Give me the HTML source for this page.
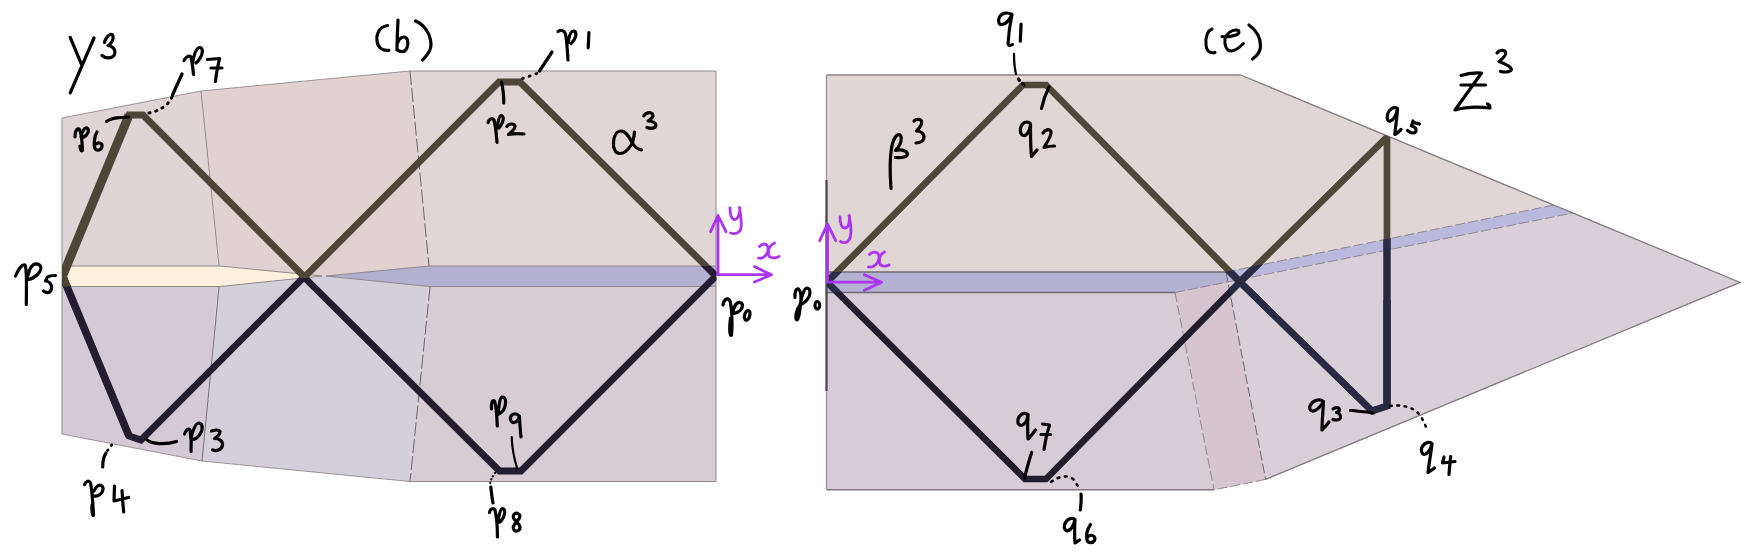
<!DOCTYPE html>
<html><head><meta charset="utf-8"><style>
html,body{margin:0;padding:0;background:#fff;width:1753px;height:554px;overflow:hidden;font-family:"Liberation Sans",sans-serif}
svg{display:block}
</style></head><body>
<svg width="1753" height="554" viewBox="0 0 1753 554">
<defs>
<clipPath id="cLP"><rect x="62" y="0" width="654.5" height="554"/></clipPath>
<clipPath id="cRP"><polygon points="827,75 1240.6,75 1740,282.4 1265.6,479.4 1214,489.8 827,489.8"/></clipPath>
<clipPath id="cCream"><polygon points="62,266 220,266 322,276 220,286.5 62,286.5"/></clipPath>
<clipPath id="cLav"><polygon points="326,276 429,266 720,266 720,300 326,300"/></clipPath>
<clipPath id="cBrownL"><polygon points="0,0 800,0 800,278 0,278"/></clipPath>
<clipPath id="cBelowR"><polygon points="800,272 1226,272 1554,205 1760,205 1760,560 800,560"/></clipPath>
<clipPath id="cRL"><polygon points="1226,272 1554,205 1760,205 1760,560 1280.7,560"/></clipPath>
<clipPath id="cBandR"><polygon points="826.5,272 1226,272 1554,205 1573,213 1175,292.5 826.5,292.5"/></clipPath>
</defs>
<!-- LEFT PANEL facets -->
<g stroke="none">
<polygon points="62,118 201,91 219,276 62,276" fill="#e0d4d6"/>
<polygon points="201,91 410,71 430,276 219,276" fill="#e2d1d1"/>
<polygon points="410,71 716,71 716,276 430,276" fill="#e0d6d6"/>
<polygon points="62,276 219,276 202,461 62,434" fill="#d5c9d5"/>
<polygon points="219,276 430,276 410,481.5 202,461" fill="#d4d0d9"/>
<polygon points="430,276 716,276 716,481.5 410,481.5" fill="#d7cbd4"/>
<polygon points="62,266 220,266 322,276 220,286.5 62,286.5" fill="#fdf0dc"/>
<polygon points="326,276 429,266 716,266 716,286.5 429,286.5" fill="#b4b0d2"/>
</g>
<!-- left panel edges -->
<g fill="none" stroke="#8f888c" stroke-width="1">
<polyline points="62,118 201,91 410,71" stroke="#9a9296"/>
<polyline points="410,71 716,71 716,481.5 410,481.5"/>
<polyline points="410,481.5 202,461 62,434" stroke="#9a9296"/>
<line x1="62" y1="118" x2="62" y2="434"/>
<line x1="201" y1="91" x2="219" y2="266" stroke-width="0.9" stroke="#8a8084"/>
<line x1="219" y1="287" x2="202" y2="461" stroke-width="0.9" stroke="#6a6468"/>
<line x1="410" y1="71" x2="429" y2="266" stroke-dasharray="14,3" stroke="#6a6468"/>
<line x1="430" y1="287" x2="410" y2="481.5" stroke-dasharray="14,3" stroke="#6a6468"/>
<polyline points="62,266 220,266 322,276 220,286.5 62,286.5"/>
<polyline points="326,276 429,266 716,266"/>
<polyline points="326,276 429,286.5 716,286.5"/>
</g>
<!-- left zigzag -->
<g clip-path="url(#cLP)" fill="none" stroke-linejoin="miter" stroke-miterlimit="10">
<polyline points="62.5,276 129,436 141,440 304,277 499.5,471 521,471 716,276" stroke="#221d30" stroke-width="6.8"/>
<line x1="62.5" y1="276" x2="129" y2="436" stroke="#221d30" stroke-width="7.6"/>
<g clip-path="url(#cBrownL)">
<polyline points="62.5,276 129,115 143,115 304.5,277 499,82 520,82 716,276" stroke="#4e4536" stroke-width="6.8"/>
<line x1="62.5" y1="276" x2="129" y2="115" stroke="#4e4536" stroke-width="9"/>
</g>
<g clip-path="url(#cCream)">
<line x1="62.5" y1="276" x2="129" y2="436" stroke="#4e4536" stroke-width="7.6"/>
</g>
<g clip-path="url(#cLav)">
<polyline points="499,82 520,82 716,276" stroke="#221d30" stroke-width="6.8"/>
</g>
</g>

<!-- RIGHT PANEL facets -->
<g stroke="none">
<polygon points="826.5,75 1240.6,75 1554,205 1226,272 826.5,272" fill="#e0d6d6"/>
<polygon points="826.5,292.5 1175,292.5 1214,489.8 826.5,489.8" fill="#d7ccd6"/>
<polygon points="1175,292.5 1228,282 1265.6,479.4 1214,489.8" fill="#d6c4cf"/>
<polygon points="1228,282 1573,213 1740,282.4 1265.6,479.4" fill="#d9cfd8"/>
<polygon points="826.5,272 1226,272 1554,205 1573,213 1175,292.5 826.5,292.5" fill="#bab9dd"/>
<polygon points="826.5,272 1226,272 1228,282 1175,292.5 826.5,292.5" fill="#b5b1d3"/>
</g>
<g fill="none" stroke="#8f888c" stroke-width="1">
<polyline points="826.5,75 1240.6,75"  stroke="#a39b9d" stroke-width="2"/><polyline points="1240.6,75 1740,282.4 1265.6,479.4" stroke="#837d81" stroke-width="1.3"/>
<polyline points="1265.6,479.4 1214,489.8" stroke-dasharray="10,3"/>
<polyline points="1214,489.8 826.5,489.8" stroke="#7e787c" stroke-width="1.6"/><polyline points="826.5,489.8 826.5,75" stroke="#9a9598" stroke-width="1.4"/>
<line x1="1175" y1="292.5" x2="1214" y2="489.8" stroke-dasharray="10,3"/>
<line x1="1226" y1="272" x2="1265.6" y2="479.4" stroke-dasharray="10,3" stroke="#6a6468"/>
<line x1="1226" y1="272" x2="1554" y2="205" stroke-dasharray="10,3"/>
<line x1="1175" y1="292.5" x2="1573" y2="213" stroke-dasharray="10,3"/>
<line x1="826.5" y1="272" x2="1226" y2="272" stroke="#6e6a72" stroke-width="1.5"/>
<line x1="826.5" y1="292.5" x2="1175" y2="292.5" stroke="#6e6a72" stroke-width="1.5"/>
</g>
<line x1="826.5" y1="180" x2="826.5" y2="391" stroke="#4a4a4a" stroke-width="2.2"/>
<!-- right zigzag -->
<g clip-path="url(#cRP)" fill="none" stroke-linejoin="miter" stroke-miterlimit="10" stroke-width="6.7">
<polyline points="827,282 1025,479 1046,479 1240,282 1372,411 1387,406 1387,300" stroke="#221e30"/>
<polyline points="827,282 1023,85 1046,85 1240,282 1387,137 1387,407" stroke="#4f4737"/>
<g clip-path="url(#cBelowR)">
<polyline points="827,282 1023,85 1046,85 1240,282 1387,137 1387,407" stroke="#221e30"/>
</g>
<g clip-path="url(#cRL)" stroke="#272a40">
<polyline points="827,282 1025,479 1046,479 1240,282 1372,411 1387,406 1387,300"/>
<polyline points="827,282 1023,85 1046,85 1240,282 1387,137 1387,407"/>
</g>
<g clip-path="url(#cBandR)" stroke="#2b2c48">
<polyline points="827,282 1025,479 1046,479 1240,282 1372,411 1387,406 1387,300"/>
<polyline points="827,282 1023,85 1046,85 1240,282 1387,137 1387,407"/>
</g>
</g>

<!-- magenta axes -->
<g stroke="#ac34f0" stroke-width="2.8" fill="none" stroke-linecap="round" stroke-linejoin="round">
<path d="M718,274.7 V215.5 M710.6,231.7 L718,215.5 L726,231.7"/>
<path d="M718,274.7 H771.5 M754.4,266.6 L771.5,274.7 L754.4,282"/>
<path d="M827.5,282.2 V224.2 M819.7,240.7 L827.5,224.2 L835.7,240.7"/>
<path d="M827.5,282.2 H881.5 M864.4,274.8 L881.5,282.2 L864.4,290.3"/>
<path d="M730,208 C730,214 731,219 734.5,219.5 C737,220 739.5,216 740,209 M739.5,207.5 C740.5,214 742,222 741,228 C740,233 735,234.5 730.5,233"/>
<path d="M759.5,246.5 C762,243.5 766,243 767.5,246 C769,250 767.5,255 763,257.5 C761,258.5 759.5,258.5 758.5,258 M774.5,243 C770,245 768,250 768.5,254.5 C769,258 774,259 779,256.5"/>
<path d="M840,217 C840,223 841.5,228 845,228 C848,228 849.5,224 849.5,216 M849,215.5 C850.5,222 851.5,230 850.5,236 C849.5,242 845,244 840.5,241.5"/>
<path d="M869.5,254.5 C872,251.5 877,251 878.5,254.5 C880,258 878.5,263 874,266 C872,267 870,267.5 868.5,267 M884.5,252 C880.5,254 879,258.5 879.5,262.5 C880,266.5 885,267 889,265"/>
</g>

<!-- HANDWRITING -->
<g stroke="#000" stroke-width="3.2" fill="none" stroke-linecap="round" stroke-linejoin="round">
<!-- y^3 -->
<path d="M70.2,37.3 L81.7,64.8 M94,38 L70.2,92.9"/>
<path d="M104.5,42.5 C106,36 112,32 113,36 C114,40 110,45 108,45.5 C113,46 116,50 114.5,54.5 C113,58.5 106,59 102,55.5"/>
<!-- (b) -->
<path d="M387.5,25.5 C378,27 376,36 377,41 C378,48 383,51 388.8,50.3"/>
<path d="M398,20 C397.5,30 397,42 397,50 M397.5,43 C399,38 405,34 407.5,40 C409,46 406,52 402,51.5 C399,51.5 397.5,50 397,49"/>
<path d="M415.5,21 C425,25 431,35 431,45 C431,52 426,56 422.5,60" stroke-width="3.2"/>
<!-- p7 -->
<path d="M184,60.5 C186,57 189,55 191,57 C192,62 193,68 193.5,74.5 M192.5,63 C194,55 196,47 200,47.5 C204,48 203,57 196,63"/>
<path d="M207.5,59.5 L219.5,58.5 C218,66 216,74 215.5,81.5 M211,68 L222,68"/>
<path d="M182,74 L172.5,95"/>
<path d="M172,97 C168,106 158,112 144,114" stroke-dasharray="1.2,5.8" stroke-width="3"/>
<!-- p6 -->
<path d="M75,137 C75,131 77,128 79,129 C81,131 82,140 82.5,150 C82,152 80,150 80,146 M81,137 C82,131 85,127 87,128 C90,130 88,135 83,137.5"/>
<path d="M97,132 C94,137 93.5,145 95,148.5 C97,151.5 101.5,150 102,146.5 C102.5,143 99,142 96,144"/>
<path d="M106.5,121.5 C112,117 120,117.5 129,117" stroke-width="3"/>
<!-- p5 -->
<path d="M15.5,276 C18,270 22,264 25,265 C27,268 26.5,285 26.3,304.5 M27.5,277 C29,270 32,264 36,263.8 C41,264 43,268 38,274 C35,277 31,279 28.5,279.5"/>
<path d="M55.5,275.5 C52,275.5 49,276 47.5,277 L45.5,281 C49,281 52,284 51.5,288 C51,293 47,294 43.5,291"/>
<!-- p4 -->
<path d="M84.5,484.5 C86,481 89,480 90.5,483 C92,490 93,505 93.5,515 C93,517 91.5,512 92,505 M94,491 C96,486 99,484.5 101.5,485.5 C104,487 103.5,492 100,494.5 C98,496 96,496.5 94.5,496"/>
<path d="M114.5,486 L114,501 L128.5,497.5 M122,490.5 C122.5,498 123,506 123.7,512"/>
<path d="M102.7,467 C102.7,461 104,456 106,453"/>
<path d="M107.5,450.5 L114,442" stroke-dasharray="0.8,5.5" stroke-width="2.8"/>
<!-- p3 -->
<path d="M147,440 C152,444 165,445 176.5,441.5"/>
<path d="M184.5,434 C186,430 188.5,427.5 190,430 C191,436 191.5,446 191,451.5 M191,438 C193,430 196,423 199,423 C203,423.5 203.5,430 199,435.5 C197,438 194,439.5 192.5,439.5"/>
<path d="M211.5,431 C215,430 219,429.5 220,431.5 C220,434 217,437 214.5,438.5 C219,438.5 223,441 222.5,445 C222,449.5 217,451.5 212.5,450"/>
<!-- p1 -->
<path d="M558,31.5 C561,29.5 564,30 565.5,34 C567,42 567.5,52 568,60 M568,43 C569,36 571,31 573.5,31 C577,31.5 577,38 571,43.5"/>
<path d="M588.9,32.6 L588.2,47.8"/>
<path d="M552,52 L539.5,71"/>
<path d="M537,73.5 L521,79" stroke-dasharray="1.2,6" stroke-width="2.8"/>
<!-- p2 -->
<path d="M503.7,103 C504,96 503,89 501.5,82"/>
<path d="M488,122.5 C489,119 492,117.5 494,120 C495.5,126 496.5,135 497,142.5 M497,128 C498,121 499.5,116 501,115.5 C504,115.5 504.5,121 499,128"/>
<path d="M507,126.5 C509,123.5 514,123 515,126 C515.5,129 511,132.5 508.5,134.5 C513,133.5 519,133.5 524,134"/>
<!-- alpha^3 -->
<path d="M634.5,132 C634,137 633.5,141 631.5,144.5 C628,150 624,153.5 620,153.5 C615,153.5 613,148 613.5,142 C614,135 617,131 621,131 C626,131 629,137 632,142.5 C634.5,146.5 637,149.5 641.5,149.8"/>
<path d="M643.8,115.8 C645.5,113 650,111.5 652.5,114 C654,116.5 650.5,119.5 648,121 C652,121 656,122.5 655.8,125.5 C655.5,128.5 650.5,129 647,127.5"/>
<!-- p0 left -->
<path d="M723,305 C724,299 728,297 730,301 C732,308 732.5,325 731.5,335 C730,337 729,330 730.5,318 M732.5,313 C734,306 737,302 740,302.5 C744,303.5 743,309 738,312 C736,313 734,313.5 732.5,313.5"/>
<ellipse cx="747.2" cy="315.3" rx="2.6" ry="5" transform="rotate(15 747.2 315.3)"/>
<!-- p9 -->
<path d="M491.5,409 C491,403 492.5,399.5 494.5,401 C496,405 497,418 497.3,426 M498,414.5 C499,405 500,397.5 502,397 C506,397 507,403 503.5,410 C502,412 500,414 498,414.5"/>
<path d="M519,416 C517,413 513,413 511,416 C509.5,419 511,423 514,422.5 C517,422 519,419 519.5,416 C519.5,423 520.5,431 521,437"/>
<path d="M511.7,437 C512,447 514,458 517,468" stroke-width="2.2"/>
<!-- p8 -->
<path d="M495,473 C492,477 490,481 490,486" stroke-dasharray="0.1,3.6" stroke-width="2.2"/>
<path d="M490.8,487 C491.5,493 492,498 493,503"/>
<path d="M489.5,512.5 C490,509 493,507.5 495,510 C496.5,517 497.5,528 497.4,537 M498,522.5 C499,514 500.5,508.5 502.5,508.5 C506,509 505,517 501,521 C500,522 499,522.5 498,522.5"/>
<path d="M518.5,514 C516,512 512.5,514 513.5,518 C514.5,521 520,523 520,527.5 C520,531 516,532 514,530 C512,527.5 515,523 518,520 C520.5,517.5 520.5,515 518.5,514"/>
<!-- p0 right -->
<path d="M795,297.5 C794.5,292 796,288 798.5,289 C801,291 801.5,297 800.5,305 C799.5,313 798.5,320 797,320 C795,319 795.5,310 800,305 M800,305 C802,296 804,288 807,288 C811,288.5 811.5,296 805,302 C803,303.5 801.5,304.5 800,305"/>
<ellipse cx="817.3" cy="305.3" rx="2.3" ry="3.8"/>
<!-- q1 -->
<path d="M1012,14.5 C1008,12 1002,12.5 999.5,17 C997.5,21 999,25 1002,24.5 C1006,24 1010,19 1012,14.5 C1010,24 1008.5,35 1008,44 C1009,46 1011,45.5 1012.5,44.5"/>
<path d="M1021.1,24.2 L1020.3,41.1"/>
<path d="M1014,54 C1014,61 1014.5,68 1016,74" stroke-width="2.3"/>
<path d="M1018.5,79 L1019.5,80.5 M1022.5,83.5 L1024,85"/>
<!-- q2 -->
<path d="M1049,87 C1046,93 1043,101 1041.5,108.5"/>
<path d="M1030,123 C1026,120.5 1022,123 1020.5,128 C1019.5,133 1022,136.5 1025,135.5 C1028,134 1030,129 1030.5,124 C1030.5,135 1030.5,148 1031.5,156.5 C1033,155 1035,152 1037,150"/>
<path d="M1043,133 C1045,129.5 1049.5,128.5 1051,131.5 C1052,135 1048,141 1044,147.5 C1047.5,146.5 1051,146 1054.5,146"/>
<!-- beta^3 -->
<path d="M891,188.5 C890,175 889.5,160 891.5,148 C893,140 896,134.5 899,134.5 C902,135 902,141 899,146 C897.5,148.5 896,150 895.5,150.5 C900,149.5 905,150 907.5,153.5 C908,157 902,158 895.5,157.5"/>
<path d="M914,121 C916,119 920,118.5 921.5,121 C922.5,124 919,128.5 916.5,131 C920,131 924,133 924,137 C924,141 920,143 916,143"/>
<!-- (e) -->
<path d="M1212,29 C1207,31 1205.5,38 1206,45 C1206.5,51 1209.5,53.5 1215,52.5" stroke-width="3"/>
<path d="M1222,36.5 C1226,37.5 1231,36.5 1236,35 C1240,33.5 1240,30 1236,30 C1231,30 1226,34 1225,39 C1224,46 1227,51 1231,51 C1236,51 1240,47 1243.5,43.5" stroke-width="3"/>
<path d="M1249,25 C1256,30 1260.5,38 1260.5,46 C1260.5,52 1257,56 1252.5,59" stroke-width="3.2"/>
<!-- Z^3 -->
<path d="M1461,75.5 C1468,73 1475,72.5 1481.5,73 L1455,110 C1465,107 1478,106.5 1490,108 C1490,106 1489,104.5 1487.5,104 M1461,85 L1485.5,85"/>
<path d="M1497,53 C1499,50 1504,49.5 1505.5,52 C1507,55.5 1502,59 1499,61.5 C1503,63 1511,66 1511.5,69.5 C1511,72 1505,72.5 1500.5,71.5"/>
<!-- q5 -->
<path d="M1397.5,108.5 C1394,106 1389,109 1387.5,114.5 C1386.5,119 1388,122 1390.5,121 C1394,119.5 1396.5,114 1397.5,109 C1397,118 1395.5,127 1394.8,134.5 C1396.5,134 1399,131.5 1401,129.5"/>
<path d="M1419.5,124 C1417,123 1414.5,123 1413,122 M1413,121 L1411.5,126 C1414,126.5 1416.5,128 1416,131 C1415,134 1411,133.5 1407.5,130.5"/>
<!-- q7 -->
<path d="M1028,414.5 C1024,412 1019.5,414 1018,419.5 C1017,424 1020,426 1022.5,425 C1026,423.5 1027.5,419 1028,415 C1027.5,424 1027.5,432 1028,439 C1030.5,437 1033,433 1035.5,430"/>
<path d="M1042.5,424 L1049.5,425 C1047,433 1045,442 1044,449.5 M1041,434.5 L1050.5,434.5"/>
<path d="M1031.7,452.5 C1029,460 1026.5,470 1024.5,478"/>
<!-- q6 -->
<path d="M1051,482 C1058,477 1067,474 1073,479 C1076,482 1078,486 1079,490" stroke-dasharray="2,5.5" stroke-width="2.5"/>
<path d="M1081,494 C1081.5,500 1081,505 1080.3,510"/>
<path d="M1075,519.5 C1071,517 1066,519.5 1064.5,525 C1063.5,529 1066,531.5 1068.5,530.5 C1072,529 1074,524 1075,520 C1074.5,529 1074.5,537 1075,543 C1076.5,542.5 1078,541 1079.5,540"/>
<path d="M1090.5,524.5 C1087.5,529 1086,535 1087,540 C1088,543.5 1092.5,543.5 1094.5,540.5 C1096,537 1093,534.5 1090,535.5 C1088.5,536 1087.5,537 1087,538"/>
<!-- q3 -->
<path d="M1323.5,401.5 C1319,398 1312,401 1310,406 C1309,410 1311.5,412 1315,410.5 C1319,409 1322,404 1323.5,401.5 C1323,411 1322,421 1322,430 C1324.5,427 1327,425 1329,422"/>
<path d="M1333,409 C1335.5,407 1339,407 1339.5,409.5 C1339.5,411.5 1338,412 1336.5,412.5 C1339,413 1341,415 1340.5,417.5 C1340,420 1336,420.5 1333,419.5"/>
<path d="M1350.5,410.5 C1358,411 1366,412 1373.5,413"/>
<!-- q4 -->
<path d="M1390,406 C1400,404.5 1412,406 1419,414 C1422,418 1424.5,423 1426.5,428.5" stroke-dasharray="1.8,5.5" stroke-width="2.5"/>
<path d="M1432,443.5 C1428,441 1423,443.5 1421.5,448.5 C1420.5,452.5 1423,455 1425.5,454 C1429,452.5 1431,447.5 1432,444 C1431,453 1429,463 1428,472.5 C1430.5,471 1432.5,469.5 1434.5,468"/>
<path d="M1444,457 L1442.5,463 L1455,461.5 M1450.7,456.5 C1450,462 1449.5,468 1449,474.5"/>
</g>
</svg>
</body></html>
